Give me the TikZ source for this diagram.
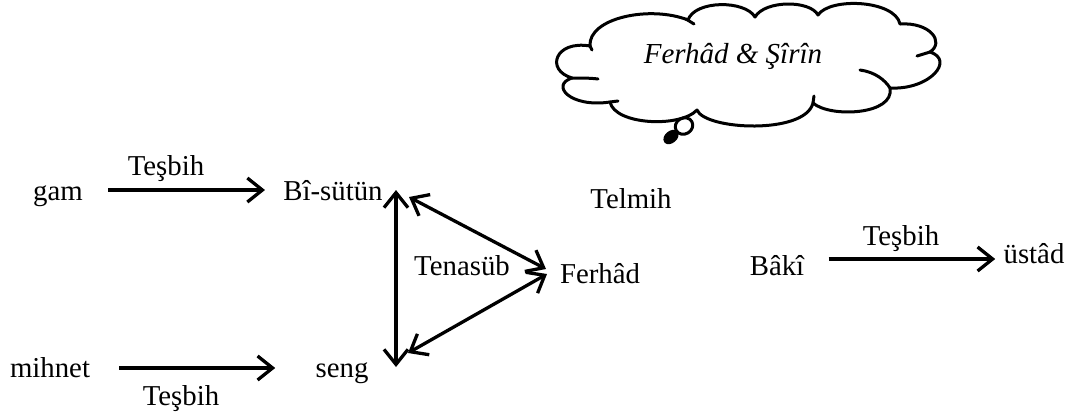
\documentclass[tikz,border=0pt]{standalone}
\usepackage{fontspec}
\setmainfont{Liberation Serif}
\usetikzlibrary{arrows.meta,shapes.geometric}
\begin{document}
\begin{tikzpicture}[x=0.5pt,y=-0.5pt,
  lbl/.style={inner sep=0pt,anchor=base,font=\fontsize{14.4}{17}\selectfont},
  barb/.tip={Straight Barb[length=7.5pt,width=12pt,line width=1.65pt]},
  arr/.style={line width=1.65pt,-barb},
  darr/.style={line width=1.65pt,barb-barb},
  cloudline/.style={line width=1.5pt,line cap=round,line join=round}]
\useasboundingbox (0,0) rectangle (1070,414);
% cloud outline
\draw[cloudline] (590,46)
  .. controls (588,18) and (650,5) .. (688,20)
  .. controls (695,0) and (745,0) .. (755,17)
  .. controls (765,0) and (810,0) .. (818,15)
  .. controls (830,-3) and (895,0) .. (900,24)
  .. controls (930,22) and (945,42) .. (930,52)
  .. controls (955,60) and (930,90) .. (890,88)
  .. controls (895,115) and (830,118) .. (813,103)
  .. controls (805,135) and (705,130) .. (697,110)
  .. controls (680,128) and (615,125) .. (610,102)
  .. controls (570,108) and (550,85) .. (572,78)
  .. controls (545,70) and (555,40) .. (590,46) -- cycle;
% cloud inner strokes
\draw[cloudline] (572,78) .. controls (582,78) and (590,78) .. (598,79);
\draw[cloudline] (610,102) -- (618,101);
\draw[cloudline] (860,70) .. controls (875,72) and (885,80) .. (890,88);
\draw[cloudline] (917,56) -- (930,52);
\draw[cloudline] (686,19) -- (694,24);
\draw[cloudline] (813,103) -- (814,96);
\draw[cloudline] (590,46) -- (592,50);
\node[inner sep=0pt,anchor=base,font=\fontsize{14.5}{17}\selectfont\itshape] (ftitle) at (733,63) {Ferhâd \& Şîrîn};
\node[ellipse,draw,cloudline,minimum width=9pt,minimum height=8pt,inner sep=0pt,rotate=30] (bub1) at (684,126) {};
\node[ellipse,draw,cloudline,fill=black,minimum width=7pt,minimum height=4.5pt,inner sep=0pt,rotate=40] (bub2) at (671,137) {};
% labels
\node[lbl] (gam) at (58,200) {gam};
\node[lbl] (bs) at (333,200) {Bî-sütün};
\node[lbl] (t1) at (166,175) {Teşbih};
\node[lbl] (mihnet) at (50,377) {mihnet};
\node[lbl] (seng) at (342,377) {seng};
\node[lbl] (t2) at (181,405) {Teşbih};
\node[lbl] (ten) at (462,275) {Tenasüb};
\node[lbl] (ferhad) at (600,283) {Ferhâd};
\node[lbl] (telmih) at (631,208) {Telmih};
\node[lbl] (baki) at (777,275) {Bâkî};
\node[lbl] (ustad) at (1034,263) {üstâd};
\node[lbl] (t3) at (901,245) {Teşbih};
% triangle corners
\coordinate (va) at (396,190);
\coordinate (vb) at (396,367);
\coordinate (da) at (409,197);
\coordinate (db) at (546,269);
\coordinate (dc) at (547,274);
\coordinate (dd) at (408,353);
% connectors
\draw[arr] ([xshift=12.5pt]gam.east |- 0,190) -- ([xshift=-9pt]bs.west |- 0,190);
\draw[arr] ([xshift=14.5pt]mihnet.east |- 0,368) -- ([xshift=-20pt]seng.west |- 0,368);
\draw[arr] ([xshift=12pt]baki.east |- 0,259) -- ([xshift=-4pt]ustad.west |- 0,259);
\draw[darr] (va) -- (vb);
\draw[darr] (da) -- (db);
\draw[darr] (dc) -- (dd);
\end{tikzpicture}
\end{document}
